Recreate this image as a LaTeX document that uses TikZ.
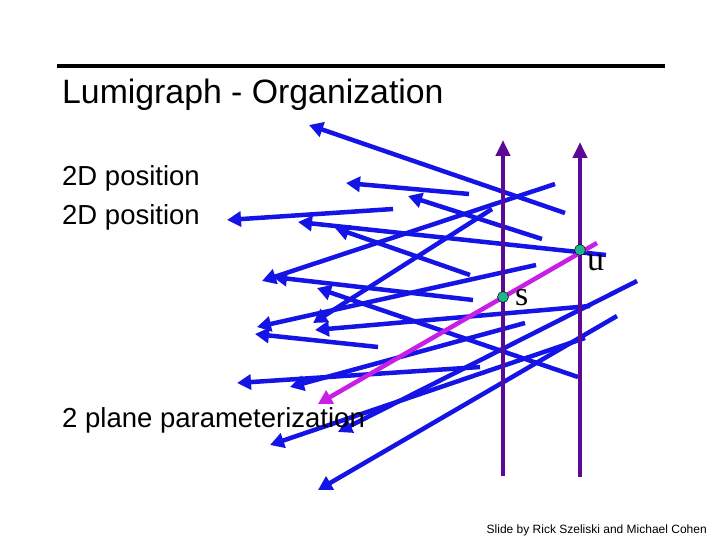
\documentclass[tikz,border=0pt]{standalone}
\usepackage{fontspec}
\setmainfont{Liberation Sans}
\newfontfamily\seriff{Liberation Serif}
\usetikzlibrary{arrows.meta}
\definecolor{rayblue}{RGB}{20,20,230}
\definecolor{plum}{RGB}{90,10,150}
\definecolor{mag}{RGB}{200,30,230}
\definecolor{dotg}{RGB}{30,180,140}
\begin{document}
\begin{tikzpicture}[x=1pt,y=-1pt,
  ray/.style={draw=rayblue,line width=4.5pt,-{Triangle[length=14pt,width=15pt]}},
  plane/.style={draw=plum,line width=4.5pt,-{Triangle[length=16pt,width=14pt]}},
  dotn/.style={circle,fill=dotg,draw=black,line width=0.5pt,inner sep=0pt,minimum size=11pt},
  txt/.style={anchor=west,inner sep=0pt,font=\fontsize{27.5}{32}\selectfont}]
\useasboundingbox (0,0) rectangle (720,540);
\fill[white] (0,0) rectangle (720,540);
\coordinate (L1) at (57,66); \coordinate (L2) at (665,66);
\draw[line width=3.5pt] (L1) -- (L2);
\foreach \a/\b/\c/\d [count=\i] in {
 565/213/309/125, 469/194/346/183, 542/239/408/196, 393/209/227/220,
 606/255/298/222, 555/184/262/281, 470/275/335/228, 492/209/313/323,
 473/300/273/277, 536/265/257/327, 578/377/317/288, 590/306/315/330,
 637/281/338/432, 378/347/255/334, 480/367/237/383, 525/323/290/387,
 617/316/318/490, 585/338/270/445} {
  \coordinate (t\i) at (\a,\b); \coordinate (h\i) at (\c,\d);
  \draw[ray] (t\i) -- (h\i);
}
\coordinate (sb) at (503,476); \coordinate (st) at (503,140);
\coordinate (ub) at (580,477); \coordinate (ut) at (580,142);
\draw[plane] (sb) -- (st);
\draw[plane] (ub) -- (ut);
\coordinate (mt) at (597,243); \coordinate (mh) at (318,404);
\draw[draw=mag,line width=4.5pt,-{Triangle[length=14pt,width=15pt]}] (mt) -- (mh);
\node[dotn] (s) at (503,297) {};
\node[dotn] (u) at (580,250) {};
\node[anchor=west,inner sep=0pt,font=\seriff\fontsize{34}{38}\selectfont] (sl) at (515,298) {s};
\node[anchor=west,inner sep=0pt,font=\seriff\fontsize{34}{38}\selectfont] (ul) at (587,263) {u};
\node[txt,font=\fontsize{33.8}{38}\selectfont] (title) at (62,95) {Lumigraph - Organization};
\node[txt] (p1) at (62,178) {2D position};
\node[txt] (p2) at (62,217) {2D position};
\node[txt] (pp) at (62,420) {2 plane parameterization};
\node[anchor=east,inner sep=0pt,font=\fontsize{12}{14}\selectfont] (foot) at (707,530) {Slide by Rick Szeliski and Michael Cohen};
\end{tikzpicture}
\end{document}
